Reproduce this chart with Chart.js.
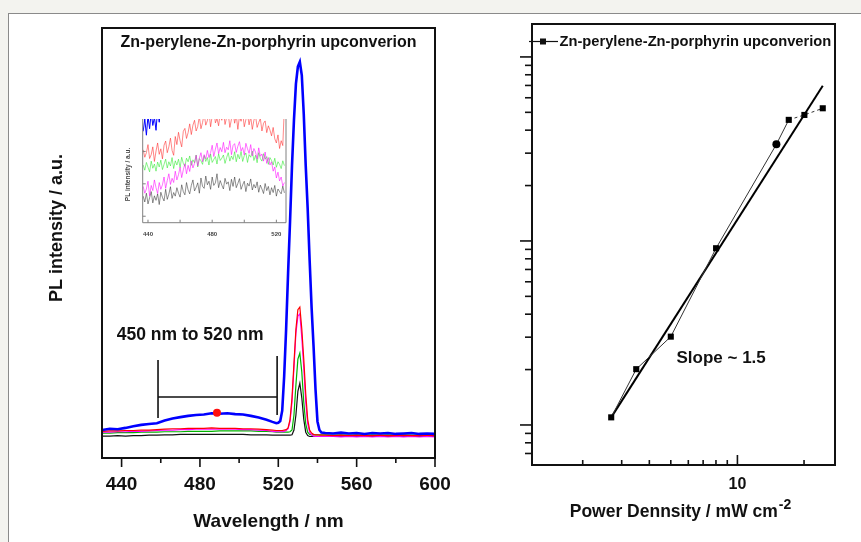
<!DOCTYPE html>
<html>
<head>
<meta charset="utf-8">
<title>Zn-perylene-Zn-porphyrin upconverion</title>
<script src="https://cdn.jsdelivr.net/npm/chart.js@4.4.1/dist/chart.umd.min.js"></script>
<style>
  html, body { margin: 0; padding: 0; background: #f3f3ef; }
  #page { position: relative; width: 861px; height: 542px; overflow: hidden; }
  #sheet { position: absolute; left: 8px; top: 13px; right: 0; bottom: 0; background: #fff;
           border-left: 1px solid #8a8a8a; border-top: 1px solid #8a8a8a; }
  canvas { position: absolute; }
</style>
</head>
<body>
<div id="page">
  <div id="sheet"></div>
  <canvas id="spectrum" width="480" height="542" style="left:0;top:0"></canvas>
  <canvas id="inset" width="182" height="140" style="left:112px;top:108px"></canvas>
  <canvas id="power" width="411" height="542" style="left:450px;top:0"></canvas>
</div>
<script>
const FONT = '"Liberation Sans", Arial, Helvetica, sans-serif';
Chart.defaults.font.family = FONT;
Chart.defaults.color = '#111';

const seriesName = 'Zn-perylene-Zn-porphyrin upconverion';

// ---- main spectrum (PL intensity, a.u.) ----
const wavelength = [430, 434, 438, 442, 446, 450, 454, 458, 462, 466, 470, 474, 478, 482, 486, 490, 494, 498, 502, 506, 510, 514, 517, 519,
  520, 521, 522, 523, 524, 525, 526, 527, 528, 529, 530, 531, 532, 533, 534, 535, 536, 537, 538, 539, 540, 541, 542,
  544, 548, 552, 556, 560, 564, 568, 572, 576, 580, 584, 588, 592, 596, 600];
const bluePL = [6.5, 6.8, 6.7, 7.0, 7.4, 7.7, 7.9, 8.1, 8.7, 9.2, 9.5, 9.8, 10.0, 10.1, 10.4, 10.3, 10.4, 10.2, 10.1, 9.8, 9.4, 8.9, 8.4, 8.1,
  8.2, 8.6, 11, 19, 30, 43, 55, 68, 78.6, 87, 91, 92.1, 89, 80, 68, 58, 46, 35, 26, 16, 8.5, 6.5, 5.9,
  5.8, 5.7, 5.9, 5.7, 5.8, 5.6, 5.8, 5.7, 5.8, 5.6, 5.7, 5.8, 5.6, 5.7, 5.6];
const redPL = [6.2, 6.3, 6.3, 6.4, 6.4, 6.5, 6.5, 6.6, 6.7, 6.8, 6.8, 6.9, 6.9, 6.9, 7.0, 6.9, 6.9, 6.9, 6.8, 6.8, 6.7, 6.6, 6.5, 6.4,
  6.4, 6.4, 6.4, 6.5, 6.6, 7.0, 9.0, 14, 22, 30, 34.5, 35.1, 30, 23, 15, 9.0, 6.5, 5.8, 5.5, 5.4, 5.4, 5.3, 5.3,
  5.3, 5.2, 5.3, 5.2, 5.3, 5.2, 5.2, 5.3, 5.2, 5.2, 5.3, 5.2, 5.2, 5.3, 5.2];
const magentaPL = [6.0, 6.0, 6.1, 6.1, 6.2, 6.2, 6.3, 6.4, 6.5, 6.5, 6.6, 6.6, 6.7, 6.7, 6.7, 6.7, 6.7, 6.7, 6.6, 6.6, 6.5, 6.4, 6.2, 6.1,
  6.1, 6.1, 6.1, 6.2, 6.4, 6.8, 8.5, 13, 21, 29, 33, 33.5, 28, 21, 13, 8.0, 6.0, 5.4, 5.1, 5.0, 5.0, 5.0, 5.0,
  5.0, 5.0, 4.9, 5.0, 4.9, 5.0, 4.9, 5.0, 4.9, 5.0, 4.9, 5.0, 4.9, 5.0, 4.9];
const greenPL = [5.8, 5.8, 5.9, 5.9, 5.9, 6.0, 6.0, 6.0, 6.1, 6.1, 6.1, 6.2, 6.2, 6.2, 6.2, 6.3, 6.3, 6.3, 6.3, 6.3, 6.2, 6.2, 6.1, 6.0,
  6.0, 6.0, 6.0, 6.0, 6.0, 6.0, 6.1, 6.5, 10, 17, 23, 24.4, 20, 13, 8.0, 6.0, 5.5, 5.4, 5.4, 5.4, 5.4, 5.4, 5.4,
  5.4, 5.3, 5.4, 5.3, 5.4, 5.3, 5.4, 5.3, 5.4, 5.3, 5.4, 5.3, 5.4, 5.3, 5.4];
const blackPL = [5.1, 5.1, 5.2, 5.1, 5.2, 5.2, 5.3, 5.3, 5.4, 5.4, 5.5, 5.5, 5.5, 5.5, 5.5, 5.5, 5.5, 5.5, 5.5, 5.4, 5.4, 5.4, 5.3, 5.3,
  5.3, 5.3, 5.3, 5.3, 5.3, 5.3, 5.3, 5.4, 6.5, 10, 15.5, 17.4, 14, 9.0, 6.0, 5.2, 5.0, 5.0, 5.0, 5.0, 5.0, 5.0, 5.0,
  5.0, 5.0, 5.0, 5.0, 5.0, 5.0, 5.0, 5.0, 5.0, 5.0, 5.0, 5.0, 5.0, 5.0, 5.0];
const wavelengthTicks = [440, 460, 480, 500, 520, 540, 560, 580, 600];

// bracket marking the 450-520 nm band, and the band maximum
const bracketX = [458.6, 458.6, 489, 458.6, 519.4, 489, 519.4, 519.4];
const bracketY = [22.8, 9.3, null, 14.2, 14.2, null, 23.7, 10.0];
const bandMax = [488.7, 10.5];
const rangeNoteAt = [475, 28.6];

// ---- inset: zoom on 437-525 nm ----
const insetWl = [437, 438, 439, 440, 441, 442, 443, 444, 445, 446,
  447, 448, 449, 450, 451, 452, 453, 454, 455, 456,
  457, 458, 459, 460, 461, 462, 463, 464, 465, 466,
  467, 468, 469, 470, 471, 472, 473, 474, 475, 476,
  477, 478, 479, 480, 481, 482, 483, 484, 485, 486,
  487, 488, 489, 490, 491, 492, 493, 494, 495, 496,
  497, 498, 499, 500, 501, 502, 503, 504, 505, 506,
  507, 508, 509, 510, 511, 512, 513, 514, 515, 516,
  517, 518, 519, 520, 521, 522, 523, 524, 525];
const insetBlue = [262, 300, 250, 310, 270, 320, 280, 305, 265, 330, 290, 340, 300, 350, 320, 360];
const insetRed = [205, 182, 196, 221, 178, 190, 214, 169, 201, 226,
  191, 208, 177, 219, 232, 196, 214, 241, 203, 188,
  246, 221, 259, 233, 214, 262, 271, 240, 258, 285,
  252, 281, 296, 263, 277, 308, 270, 289, 317, 281,
  295, 322, 276, 309, 331, 288, 301, 279, 318, 296,
  327, 283, 305, 316, 274, 299, 322, 287, 312, 268,
  309, 293, 321, 276, 298, 315, 282, 307, 268, 296,
  311, 274, 289, 302, 263, 287, 294, 258, 279, 266,
  248, 274, 239, 226, 251, 209, 233, 218, 340];
const insetMagenta = [92, 71, 84, 108, 63, 95, 79, 112, 88, 70,
  104, 83, 97, 121, 86, 110, 131, 98, 117, 104,
  139, 112, 128, 151, 119, 143, 162, 131, 157, 138,
  171, 149, 163, 188, 155, 179, 196, 168, 190, 177,
  203, 181, 196, 219, 184, 207, 226, 193, 212, 199,
  228, 196, 213, 205, 233, 190, 218, 224, 197, 216,
  230, 201, 212, 189, 225, 208, 194, 221, 186, 209,
  198, 176, 211, 185, 192, 170, 198, 163, 181, 158,
  168, 139, 152, 118, 136, 109, 121, 93, 104];
const insetGreen = [158, 142, 166, 151, 137, 170, 148, 161, 139, 167,
  152, 173, 144, 160, 176, 149, 168, 155, 181, 147,
  171, 158, 176, 150, 182, 163, 154, 179, 168, 186,
  157, 174, 165, 189, 152, 178, 171, 160, 187, 169,
  181, 158, 192, 166, 175, 184, 161, 193, 172, 179,
  189, 163, 181, 196, 170, 186, 175, 199, 168, 191,
  177, 200, 169, 187, 195, 166, 190, 182, 201, 172,
  188, 165, 196, 178, 170, 193, 176, 184, 160, 181,
  172, 158, 179, 151, 168, 160, 147, 171, 156];
const insetBlack = [62, 44, 71, 38, 57, 76, 41, 63, 49, 69,
  36, 74, 58, 47, 83, 52, 68, 91, 55, 73,
  62, 88, 71, 59, 97, 76, 66, 104, 81, 69,
  95, 112, 78, 89, 103, 71, 118, 92, 86, 124,
  97, 108, 83, 121, 95, 103, 131, 88, 110, 96,
  84, 117, 99, 106, 79, 114, 92, 121, 88, 101,
  116, 83, 97, 108, 76, 102, 93, 115, 81, 98,
  87, 106, 74, 96, 84, 70, 101, 79, 92, 66,
  88, 73, 95, 62, 84, 76, 69, 93, 72];
const insetTicksX = [440, 460, 480, 500, 520];
const insetTicksY = [0, 100, 200];

// ---- power dependence (log-log) ----
const powerDensity = [2.69, 3.49, 5.00, 8.01, 15.0, 17.06, 20.07, 24.3];
const upconvPL = [1.10, 2.01, 3.02, 9.13, 33.5, 45.5, 48.4, 52.6];
const fitPower = [2.69, 24.3];
const fitPL = [1.10, 69.8];
const powerTicks = [2, 3, 4, 5, 6, 7, 8, 9, 10, 20];
const intensityTicks = [0.7, 0.8, 0.9, 1, 2, 3, 4, 5, 6, 7, 8, 9, 10, 20, 30, 40, 50, 60, 70, 80, 90, 100];
const slopeNoteAt = [8.44, 2.31];
const powerAxisTitle = 'Power Dennsity / mW cm    ';

const pts = (xs, ys) => ys.map((y, i) => ({ x: xs[i], y }));
const isDecade = v => Math.abs(Math.log10(v) - Math.round(Math.log10(v))) < 1e-9;

function frame(color, width, open) {
  return {
    id: 'frame',
    afterDraw(chart) {
      const { ctx, chartArea: a } = chart;
      ctx.save();
      ctx.strokeStyle = color;
      ctx.lineWidth = width;
      ctx.beginPath();
      if (open) {
        ctx.moveTo(a.left, a.top);
      } else {
        ctx.moveTo(a.right, a.top);
        ctx.lineTo(a.left, a.top);
      }
      ctx.lineTo(a.left, a.bottom);
      ctx.lineTo(a.right, a.bottom);
      ctx.lineTo(a.right, a.top);
      if (!open) ctx.closePath();
      ctx.stroke();
      ctx.restore();
    }
  };
}

// tick marks drawn at the scale's own tick values
function tickMarks(specs, color, width) {
  return {
    id: 'tickMarks',
    afterDraw(chart) {
      const { ctx, chartArea: a } = chart;
      ctx.save();
      ctx.strokeStyle = color;
      ctx.lineWidth = width;
      specs.forEach(s => {
        const scale = chart.scales[s.axis];
        scale.ticks.forEach(t => {
          const len = s.isMajor(t.value) ? s.major : s.minor;
          const p = scale.getPixelForValue(t.value);
          ctx.beginPath();
          if (scale.isHorizontal()) {
            ctx.moveTo(p, a.bottom);
            ctx.lineTo(p, a.bottom + (s.out ? len : -len));
          } else {
            ctx.moveTo(a.left, p);
            ctx.lineTo(a.left + (s.out ? -len : len), p);
          }
          ctx.stroke();
        });
      });
      ctx.restore();
    }
  };
}

const noGrid = { display: false, drawTicks: false };

const line = (label, xs, ys, color, width) => ({
  label, data: pts(xs, ys), borderColor: color, borderWidth: width,
  pointRadius: 0, fill: false, tension: 0
});

// ---------- left: PL spectrum ----------
new Chart(document.getElementById('spectrum'), {
  type: 'line',
  data: {
    datasets: [
      { label: 'range', data: pts(bracketX, bracketY), borderColor: '#111', borderWidth: 1.6,
        pointRadius: 0, spanGaps: false },
      { label: 'band max', data: [{ x: bandMax[0], y: bandMax[1] }], showLine: false,
        pointRadius: 4, pointBackgroundColor: '#ff1010', pointBorderColor: '#ff1010', pointBorderWidth: 0 },
      line('blue', wavelength, bluePL, '#0000ff', 2.6),
      line('red', wavelength, redPL, '#ff0000', 1.2),
      line('magenta', wavelength, magentaPL, '#ff00ff', 1.2),
      line('green', wavelength, greenPL, '#00b400', 1.2),
      line('black', wavelength, blackPL, '#111111', 1.2)
    ]
  },
  options: {
    responsive: false,
    animation: false,
    events: [],
    layout: { padding: { left: 0, top: 28, right: 45, bottom: 0 } },
    plugins: { legend: { display: false }, tooltip: { enabled: false } },
    scales: {
      x: {
        type: 'linear', min: 430, max: 600, bounds: 'data',
        afterBuildTicks: s => { s.ticks = wavelengthTicks.map(v => ({ value: v })); },
        afterFit: s => { s.height = 84; },
        grid: noGrid, border: { display: false },
        ticks: { autoSkip: false, maxRotation: 0, padding: 15.6, color: '#111',
                 font: { size: 19, weight: 'bold' },
                 callback: v => (v % 40 === 0 ? String(v) : '') },
        title: { display: true, text: 'Wavelength / nm', color: '#111',
                 font: { size: 19, weight: 'bold' }, padding: { top: 0, bottom: 8.9 } }
      },
      y: {
        min: 0, max: 100, bounds: 'data',
        afterFit: s => { s.width = 102; },
        grid: noGrid, border: { display: false },
        ticks: { display: false },
        // leading spaces lift the rotated label a little above the axis centre
        title: { display: true, text: '      PL intensity / a.u.', color: '#111',
                 font: { size: 18, weight: 'bold' }, padding: { top: 46, bottom: 0 } }
      }
    }
  },
  plugins: [
    frame('#111', 2, false),
    tickMarks([{ axis: 'x', out: true, major: 9, minor: 5, isMajor: v => v % 40 === 0 }], '#111', 1.6),
    {
      id: 'spectrumNotes',
      afterDatasetsDraw(chart) {
        const { ctx, chartArea: a, scales: { x, y } } = chart;
        ctx.save();
        ctx.fillStyle = '#111';
        ctx.textAlign = 'center';
        ctx.textBaseline = 'middle';
        ctx.font = `bold 16px ${FONT}`;
        ctx.fillText(seriesName, (a.left + a.right) / 2, a.top + 15);
        ctx.font = `bold 17.5px ${FONT}`;
        ctx.fillText('450 nm to 520 nm', x.getPixelForValue(rangeNoteAt[0]), y.getPixelForValue(rangeNoteAt[1]));
        ctx.restore();
      }
    }
  ]
});

// ---------- inset ----------
new Chart(document.getElementById('inset'), {
  type: 'line',
  data: {
    datasets: [
      line('blue', insetWl, insetBlue, '#0000ff', 1),
      line('red', insetWl, insetRed, 'rgba(255,40,40,0.7)', 0.8),
      line('magenta', insetWl, insetMagenta, 'rgba(255,0,255,0.7)', 0.8),
      line('green', insetWl, insetGreen, 'rgba(30,230,30,0.65)', 0.8),
      line('black', insetWl, insetBlack, 'rgba(40,40,40,0.65)', 0.8)
    ]
  },
  options: {
    responsive: false,
    animation: false,
    events: [],
    layout: { padding: { left: 0, top: 11, right: 8, bottom: 0 } },
    plugins: { legend: { display: false }, tooltip: { enabled: false } },
    scales: {
      x: {
        type: 'linear', min: 436.7, max: 526, bounds: 'data',
        afterBuildTicks: s => { s.ticks = insetTicksX.map(v => ({ value: v })); },
        afterFit: s => { s.height = 25.3; },
        grid: noGrid, border: { display: false },
        ticks: { autoSkip: false, maxRotation: 0, padding: 7.7, color: '#444',
                 font: { size: 6, weight: 'bold' },
                 callback: v => (v % 40 === 0 ? String(v) : '') }
      },
      y: {
        min: -20, max: 300, bounds: 'data',
        afterBuildTicks: s => { s.ticks = insetTicksY.map(v => ({ value: v })); },
        afterFit: s => { s.width = 30.7; },
        grid: noGrid, border: { display: false },
        ticks: { display: false },
        title: { display: true, text: 'PL intensity / a.u.    ', color: '#444',
                 font: { size: 6.5, weight: 'bold' }, padding: { top: 12.1, bottom: 0 } }
      }
    }
  },
  plugins: [
    frame('#808080', 1, true),
    tickMarks([
      { axis: 'x', out: false, major: 3, minor: 3, isMajor: () => true },
      { axis: 'y', out: false, major: 3, minor: 3, isMajor: () => true }
    ], '#808080', 1)
  ]
});

// ---------- right: power dependence ----------
new Chart(document.getElementById('power'), {
  type: 'scatter',
  data: {
    datasets: [
      { label: seriesName, data: pts(powerDensity, upconvPL), showLine: true,
        borderColor: '#333', borderWidth: 1,
        pointStyle: c => (c.dataIndex === 4 ? 'circle' : 'rect'),
        pointRadius: c => (c.dataIndex === 4 ? 4 : 4.3),
        pointBackgroundColor: '#000', pointBorderColor: '#000', pointBorderWidth: 0,
        segment: { borderDash: c => (c.p0DataIndex >= 5 ? [3, 3] : undefined) } },
      { label: 'fit', data: pts(fitPower, fitPL), showLine: true,
        borderColor: '#000', borderWidth: 2, pointRadius: 0 }
    ]
  },
  options: {
    responsive: false,
    animation: false,
    events: [],
    layout: { padding: { left: 0, top: 24, right: 26, bottom: 0 } },
    plugins: { legend: { display: false }, tooltip: { enabled: false } },
    scales: {
      x: {
        type: 'logarithmic', min: 1.18, max: 27.6, bounds: 'data',
        afterBuildTicks: s => { s.ticks = powerTicks.map(v => ({ value: v })); },
        afterFit: s => { s.height = 77; },
        grid: noGrid, border: { display: false },
        ticks: { autoSkip: false, maxRotation: 0, padding: 10.4, color: '#111',
                 font: { size: 16, weight: 'bold' },
                 callback: v => (isDecade(v) ? String(v) : '') },
        title: { display: true, text: powerAxisTitle, color: '#111',
                 font: { size: 17.5, weight: 'bold' }, padding: { top: 0, bottom: 19.8 } }
      },
      y: {
        type: 'logarithmic', min: 0.606, max: 151, bounds: 'data',
        afterBuildTicks: s => { s.ticks = intensityTicks.map(v => ({ value: v })); },
        afterFit: s => { s.width = 82; },
        grid: noGrid, border: { display: false },
        ticks: { display: false }
      }
    }
  },
  plugins: [
    frame('#111', 2, false),
    tickMarks([
      { axis: 'x', out: false, major: 10, minor: 5, isMajor: isDecade },
      { axis: 'y', out: true, major: 12, minor: 7, isMajor: isDecade }
    ], '#111', 1.6),
    {
      id: 'powerNotes',
      afterDraw(chart) {
        const { ctx, chartArea: a, scales: { x, y } } = chart;
        ctx.save();
        ctx.fillStyle = '#111';
        ctx.strokeStyle = '#111';
        // legend entry
        const ly = a.top + 17.5;
        ctx.lineWidth = 1.2;
        ctx.beginPath();
        ctx.moveTo(a.left - 3, ly);
        ctx.lineTo(a.left + 26, ly);
        ctx.stroke();
        ctx.fillRect(a.left + 8, ly - 3, 6, 6);
        ctx.font = `bold 14.7px ${FONT}`;
        ctx.textAlign = 'left';
        ctx.textBaseline = 'middle';
        ctx.fillText(seriesName, a.left + 27.5, ly);
        // slope note
        ctx.font = `bold 17px ${FONT}`;
        ctx.textAlign = 'center';
        ctx.fillText('Slope ~ 1.5', x.getPixelForValue(slopeNoteAt[0]), y.getPixelForValue(slopeNoteAt[1]));
        // superscript of the axis unit
        ctx.font = `bold 17.5px ${FONT}`;
        const full = ctx.measureText(powerAxisTitle).width;
        const body = ctx.measureText(powerAxisTitle.trimEnd()).width;
        const sx = (x.left + x.right) / 2 - full / 2 + body + 1;
        ctx.font = `bold 14px ${FONT}`;
        ctx.textAlign = 'left';
        ctx.textBaseline = 'alphabetic';
        ctx.fillText('-2', sx, x.bottom - 33);
        ctx.restore();
      }
    }
  ]
});
</script>
</body>
</html>
